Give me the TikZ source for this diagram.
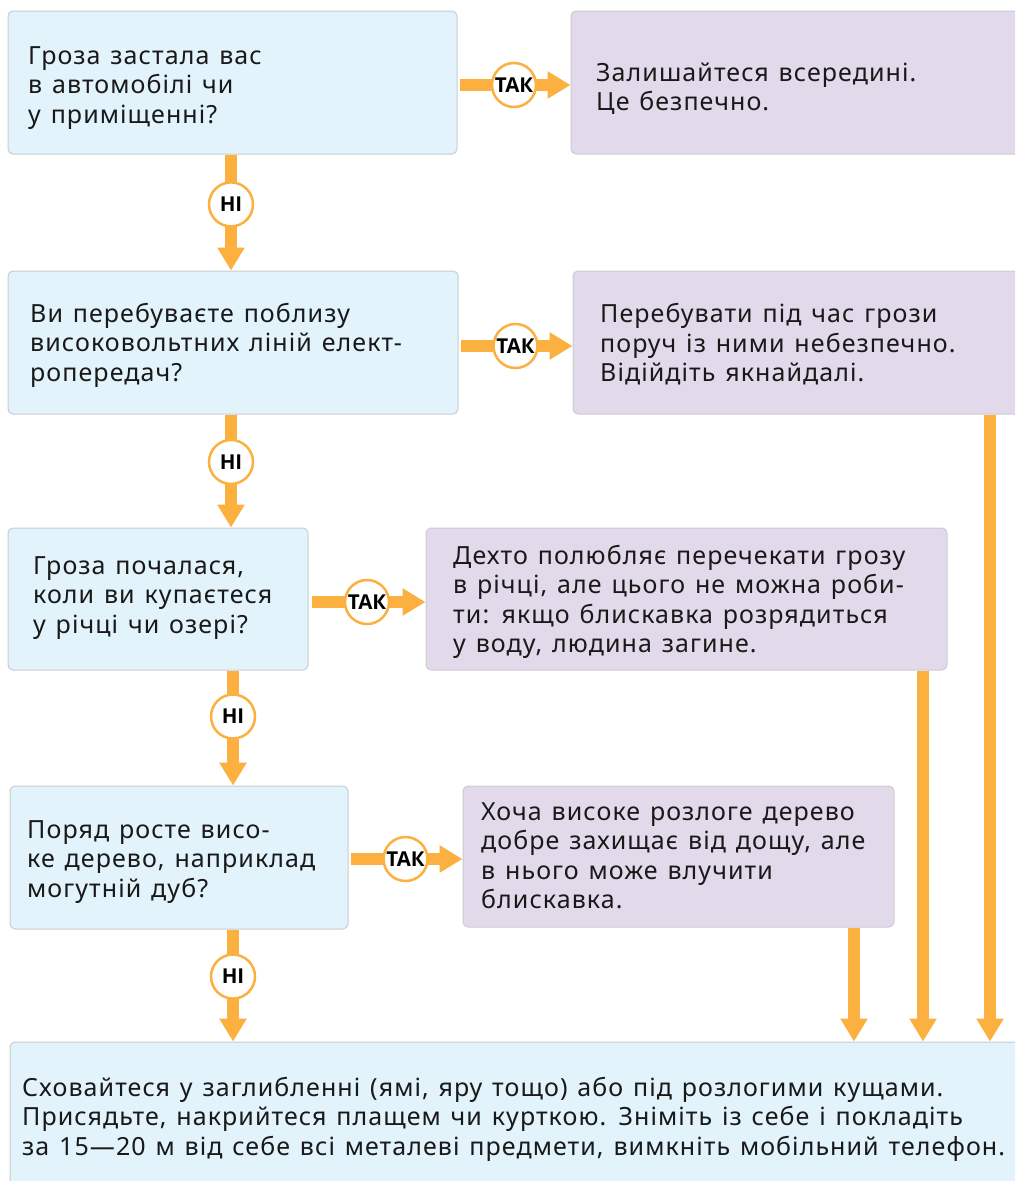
\documentclass[tikz,border=0pt]{standalone}
\usepackage{fontspec}
\setmainfont{Noto Sans}[LetterSpace=4.3, WordSpace=1.3]
\newfontfamily\lblfont{Open Sans}
\usetikzlibrary{arrows.meta}
\definecolor{qfill}{HTML}{E2F3FC}
\definecolor{afill}{HTML}{E2DAEB}
\definecolor{bordc}{HTML}{C9CCD2}
\definecolor{orng}{HTML}{FBB040}
\tikzset{
  boxbase/.style={draw=bordc, line width=1pt, rounded corners=5pt, inner sep=0pt},
  qbox/.style={boxbase, fill=qfill},
  abox/.style={boxbase, fill=afill},
  txt/.style={anchor=west, align=left, inner sep=0pt, font=\fontsize{25}{29.5}\selectfont, text=black!90},
  arr/.style={draw=orng, line width=12pt, -{Triangle[width=26pt,length=23pt]}},
  lbl/.style={circle, fill=white, draw=orng, line width=2.5pt, minimum size=44pt, inner sep=0pt, font=\lblfont\fontsize{20.5}{20.5}\selectfont\bfseries, text=black}
}
\begin{document}
\begin{tikzpicture}[x=1pt,y=-1pt]
\clip (0,0) rectangle (1015,1181);
\fill[white] (0,0) rectangle (1015,1181);
% boxes
\node[qbox, minimum width=449pt, minimum height=143pt] (q1) at (232.5,82.5) {};
\node[abox, minimum width=469pt, minimum height=143pt] (a1) at (805.5,82.5) {};
\node[qbox, minimum width=450pt, minimum height=143pt] (q2) at (233,342.5) {};
\node[abox, minimum width=467pt, minimum height=143pt] (a2) at (806.5,342.5) {};
\node[qbox, minimum width=300pt, minimum height=142pt] (q3) at (158,599) {};
\node[abox, minimum width=521pt, minimum height=142pt] (a3) at (686.5,599) {};
\node[qbox, minimum width=338pt, minimum height=143pt] (q4) at (179,857.5) {};
\node[abox, minimum width=431pt, minimum height=141pt] (a4) at (678.5,856.5) {};
\node[qbox, minimum width=1030pt, minimum height=158pt] (b) at (525,1121) {};
% texts
\node[txt] (q1t) at (28,88) {Гроза застала вас\\в автомобілі чи\\у приміщенні?};
\node[txt] (a1t) at (596,88.5) {Залишайтеся всередині.\\Це безпечно.};
\node[txt] (q2t) at (30,345) {Ви перебуваєте поблизу\\високовольтних ліній елект-\\ропередач?};
\node[txt] (a2t) at (600,344.5) {Перебувати під час грози\\поруч із ними небезпечно.\\Відійдіть якнайдалі.};
\node[txt] (q3t) at (33,598) {Гроза почалася,\\коли ви купаєтеся\\у річці чи озері?};
\node[txt] (a3t) at (453,602) {Дехто полюбляє перечекати грозу\\в річці, але цього не можна роби-\\ти: якщо блискавка розрядиться\\у воду, людина загине.};
\node[txt] (q4t) at (27,862) {Поряд росте висо-\\ке дерево, наприклад\\могутній дуб?};
\node[txt] (a4t) at (481,855.5) {Хоча високе розлоге дерево\\добре захищає від дощу, але\\в нього може влучити\\блискавка.};
\node[txt] (bt) at (22,1119) {Сховайтеся у заглибленні (ямі, яру тощо) або під розлогими кущами.\\Присядьте, накрийтеся плащем чи курткою. Зніміть із себе і покладіть\\за 15—20 м від себе всі металеві предмети, вимкніть мобільний телефон.};
% helper coordinates
\coordinate (h1) at (0,85);
\coordinate (h2) at (0,346);
\coordinate (h3) at (0,602);
\coordinate (h4) at (0,859);
\coordinate (v1) at (231,0);
\coordinate (v2) at (231,0);
\coordinate (v3) at (233,0);
\coordinate (v4) at (233,0);
\coordinate (d4) at (854,0);
\coordinate (d3) at (923,0);
\coordinate (d2) at (990,0);
% TAK arrows
\draw[arr, shorten <=2pt] (q1.east |- h1) -- node[lbl]{ТАК} (a1.west |- h1);
\draw[arr, shorten <=2pt] (q2.east |- h2) -- node[lbl]{ТАК} (a2.west |- h2);
\draw[arr, shorten <=3pt] (q3.east |- h3) -- node[lbl]{ТАК} (a3.west |- h3);
\draw[arr, shorten <=2pt] (q4.east |- h4) -- node[lbl]{ТАК} (a4.west |- h4);
% NI arrows
\draw[arr] (q1.south -| v1) -- node[lbl, pos=0.43]{НІ} (q2.north -| v1);
\draw[arr] (q2.south -| v2) -- node[lbl, pos=0.42]{НІ} (q3.north -| v2);
\draw[arr] (q3.south -| v3) -- node[lbl, pos=0.40]{НІ} (q4.north -| v3);
\draw[arr] (q4.south -| v4) -- node[lbl, pos=0.42]{НІ} (b.north -| v4);
% down arrows to the final box
\draw[arr] (a4.south -| d4) -- (b.north -| d4);
\draw[arr] (a3.south -| d3) -- (b.north -| d3);
\draw[arr] (a2.south -| d2) -- (b.north -| d2);
\end{tikzpicture}
\end{document}
